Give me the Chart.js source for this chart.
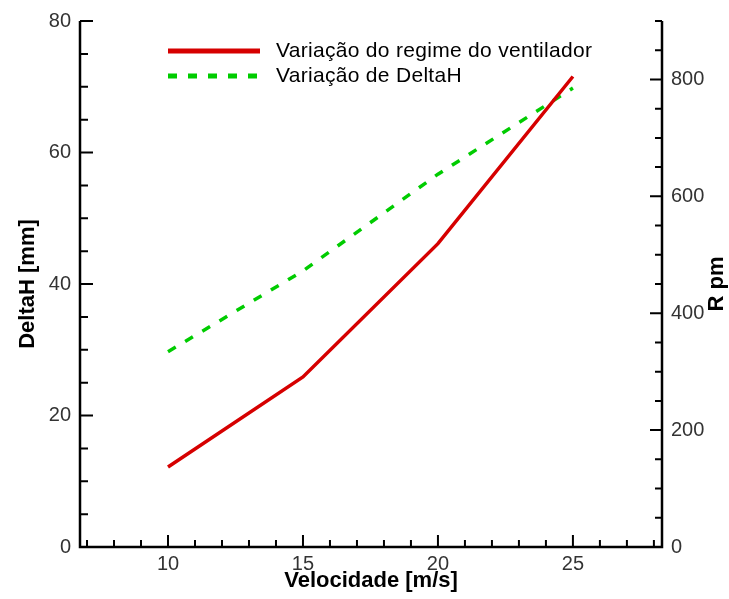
<!DOCTYPE html>
<html>
<head>
<meta charset="utf-8">
<script src="https://cdn.jsdelivr.net/npm/chart.js"></script>
<style>
  body { margin: 0; background: #fff; }
  canvas { display: block; }
</style>
</head>
<body>
<canvas id="grafico" width="729" height="599"></canvas>
<script>
// dados
const velRegime = [10, 15, 20, 25];
const rpm = [137, 291, 519, 805];
const velDelta = [10, 15, 20, 25];
const deltaH = [29.7, 42.0, 56.7, 69.8];

const ticksVel = [10, 15, 20, 25];
const ticksDelta = [0, 20, 40, 60, 80];
const ticksRpm = [0, 200, 400, 600, 800];

const fonte = '"Liberation Sans", Arial, sans-serif';
const ctx = document.getElementById('grafico');

function pontos(xs, ys) {
    return xs.map((x, i) => ({ x: x, y: ys[i] }));
}

function fixaTicks(lista) {
    return scale => { scale.ticks = lista.map(v => ({ value: v })); };
}

// eixos com marcas para dentro, títulos e legenda
const eixos = {
    id: 'eixos',
    afterDraw(chart) {
        const c = chart.ctx;
        const a = chart.chartArea;
        const sx = chart.scales.x;
        const sy = chart.scales.y;
        const sr = chart.scales.y1;

        c.save();
        c.strokeStyle = '#000';
        c.lineWidth = 2.5;
        c.beginPath();
        c.moveTo(a.left, a.top);
        c.lineTo(a.left, a.bottom);
        c.lineTo(a.right, a.bottom);
        c.lineTo(a.right, a.top);
        c.stroke();

        c.lineWidth = 2;
        c.beginPath();
        for (let v = 7; v <= 28; v++) {
            const px = sx.getPixelForValue(v);
            const tam = v % 5 === 0 ? 12 : 7;
            c.moveTo(px, a.bottom);
            c.lineTo(px, a.bottom - tam);
        }
        for (let v = 0; v <= 80; v += 5) {
            const py = sy.getPixelForValue(v);
            const tam = v % 20 === 0 ? 13 : 8;
            c.moveTo(a.left, py);
            c.lineTo(a.left + tam, py);
        }
        for (let v = 0; v <= 900; v += 50) {
            const py = sr.getPixelForValue(v);
            const tam = v % 200 === 0 ? 12 : 7;
            c.moveTo(a.right, py);
            c.lineTo(a.right - tam, py);
        }
        c.stroke();

        // títulos dos eixos
        c.fillStyle = '#000';
        c.font = 'bold 22px ' + fonte;
        c.textAlign = 'center';
        c.textBaseline = 'middle';
        c.fillText('Velocidade [m/s]', (a.left + a.right) / 2, a.bottom + 34);

        c.save();
        c.translate(28, (a.top + a.bottom) / 2);
        c.rotate(-Math.PI / 2);
        c.fillText('DeltaH [mm]', 0, 0);
        c.restore();

        c.save();
        c.translate(717, (a.top + a.bottom) / 2);
        c.rotate(-Math.PI / 2);
        c.fillText('R pm', 0, 0);
        c.restore();

        // legenda dentro da área
        c.font = '21px ' + fonte;
        c.textAlign = 'left';
        c.letterSpacing = '0.3px';
        chart.data.datasets.forEach((ds, i) => {
            const y = a.top + 30 + i * 25;
            c.strokeStyle = ds.borderColor;
            c.lineWidth = 5;
            c.setLineDash(ds.borderDash || []);
            c.beginPath();
            c.moveTo(a.left + 88, y);
            c.lineTo(a.left + 180, y);
            c.stroke();
            c.setLineDash([]);
            c.fillStyle = '#000';
            c.fillText(ds.label, a.left + 196, y);
        });
        c.restore();
    }
};

const chart = new Chart(ctx, {
    type: 'line',
    data: {
        datasets: [{
            label: 'Variação do regime do ventilador',
            data: pontos(velRegime, rpm),
            yAxisID: 'y1',
            borderColor: 'rgb(214, 0, 0)',
            borderWidth: 3.5,
            pointRadius: 0,
            tension: 0,
            fill: false
        }, {
            label: 'Variação de DeltaH',
            data: pontos(velDelta, deltaH),
            yAxisID: 'y',
            borderColor: 'rgb(0, 204, 0)',
            borderWidth: 3.5,
            borderDash: [9, 11],
            pointRadius: 0,
            tension: 0,
            fill: false
        }]
    },
    options: {
        responsive: false,
        devicePixelRatio: 1,
        animation: false,
        layout: { padding: { top: 16, left: 0, right: 0, bottom: 0 } },
        plugins: {
            legend: { display: false },
            tooltip: { enabled: false }
        },
        scales: {
            x: {
                type: 'linear',
                min: 6.74,
                max: 28.3,
                grid: { display: false, drawTicks: false },
                border: { display: false },
                afterBuildTicks: fixaTicks(ticksVel),
                afterFit: scale => { scale.height = 52; },
                ticks: { color: '#333', padding: 5, font: { family: fonte, size: 20 } }
            },
            y: {
                position: 'left',
                min: 0,
                max: 80,
                grid: { display: false, drawTicks: false },
                border: { display: false },
                afterBuildTicks: fixaTicks(ticksDelta),
                afterFit: scale => { scale.width = 80; },
                ticks: { color: '#333', padding: 9, font: { family: fonte, size: 20 } }
            },
            y1: {
                position: 'right',
                min: 0,
                max: 900,
                grid: { display: false, drawTicks: false },
                border: { display: false },
                afterBuildTicks: fixaTicks(ticksRpm),
                afterFit: scale => { scale.width = 67; },
                ticks: { color: '#333', padding: 9, font: { family: fonte, size: 20 } }
            }
        }
    },
    plugins: [eixos]
});
</script>
</body>
</html>
